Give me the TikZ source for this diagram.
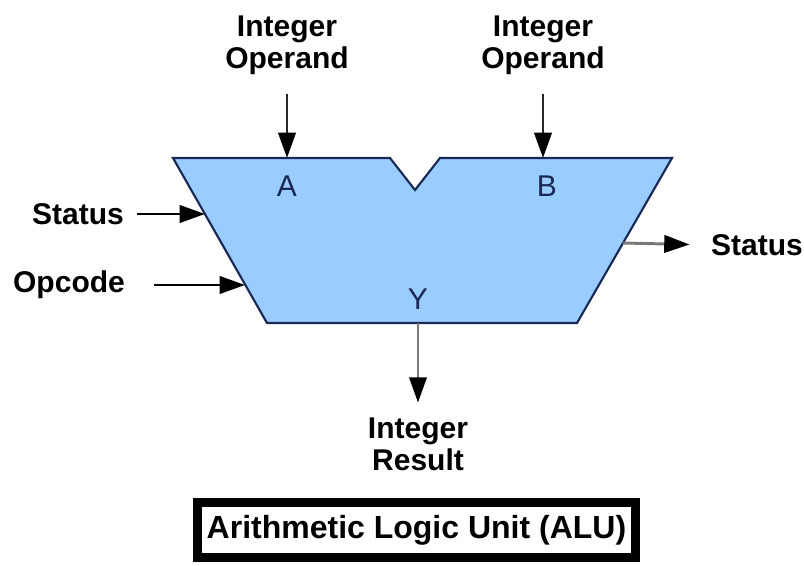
\documentclass[tikz,border=0pt]{standalone}
\usepackage{fontspec}
\setmainfont{Liberation Sans}
\usetikzlibrary{arrows.meta}
\definecolor{alublue}{RGB}{153,204,255}
\definecolor{aluedge}{RGB}{25,40,85}
\definecolor{wiregray}{RGB}{120,120,120}
\tikzset{
  lbl/.style={font=\fontsize{22.5}{24}\selectfont\bfseries, align=center, inner sep=0pt},
  port/.style={font=\fontsize{22.5}{24}\selectfont, text=aluedge, inner sep=0pt},
  sig/.style={line width=2.2pt, -{Triangle[length=19pt,width=13pt,color=black]}},
}
\begin{document}
\begin{tikzpicture}[x=0.75pt,y=-0.75pt]
\useasboundingbox (0,0) rectangle (804,565);
% ALU body
\draw[aluedge, line width=1.6pt, fill=alublue] (173,158) -- (390,158) -- (415,190) -- (440,158)
  -- (672,158) -- (577,323) -- (267,323) -- cycle;
\node[port] (pA) at (287,186) {A};
\node[port] (pB) at (547,186) {B};
\node[port] (pY) at (418,299) {Y};
% points on the outline
\coordinate (inA) at (287,158);
\coordinate (inB) at (543,158);
\coordinate (inS) at (205,214);
\coordinate (inOp) at (245,285);
\coordinate (outS) at (623,243);
\coordinate (outY) at (418,323);
% labels
\node[lbl] (opA) at (287,45) {Integer\\Operand};
\node[lbl] (opB) at (543,45) {Integer\\Operand};
\node[lbl] (stL) at (78,214) {Status};
\node[lbl] (opc) at (69,285) {Opcode};
\node[lbl] (stR) at (757,245) {Status};
\node[lbl] (res) at (418,444) {Integer\\Result};
% signals
\draw[sig, black!85] (opA.south) ++(0,19) -- (inA);
\draw[sig, black!85] (opB.south) ++(0,19) -- (inB);
\draw[sig, black] (stL.east) ++(13,0) -- (inS);
\draw[sig, black] (opc.east) ++(29,0) -- (inOp);
\draw[sig, wiregray, shorten >=16pt] (outS) -- (stR.west);
\draw[sig, wiregray, shorten >=11pt] (outY) -- (res.north);
% title
\node[lbl, font=\fontsize{24}{26}\selectfont\bfseries, draw=black, line width=6.75pt,
  minimum width=328.5pt, minimum height=41.25pt] (title) at (416.5,530) {Arithmetic Logic Unit (ALU)};
\end{tikzpicture}
\end{document}
